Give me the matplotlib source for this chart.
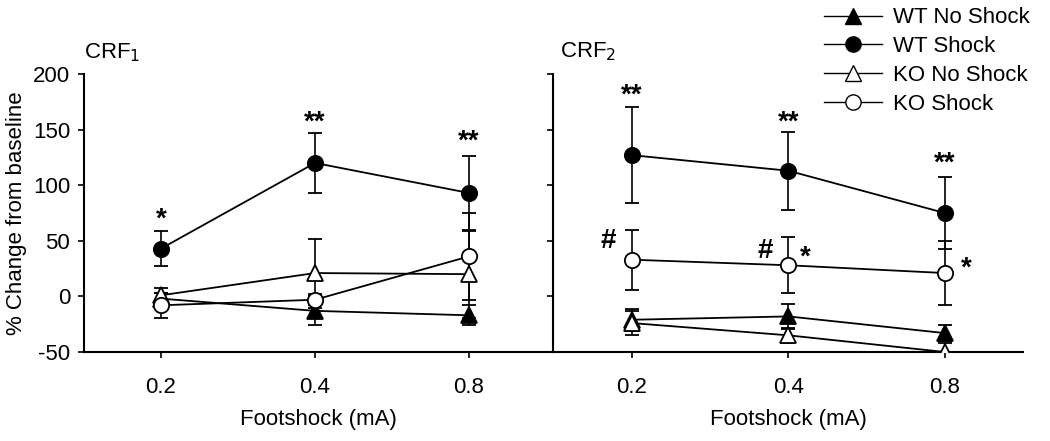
import matplotlib
matplotlib.use("Agg")
import matplotlib.pyplot as plt
from matplotlib.lines import Line2D

plt.rcParams['font.family'] = ['Liberation Sans', 'DejaVu Sans']
plt.rcParams['axes.unicode_minus'] = False

doses = ["0.2", "0.4", "0.8"]
series_names = ["WT No Shock", "WT Shock", "KO No Shock", "KO Shock"]

# CRF1 panel
crf1_wt_noshock = [-2, -13, -17]
crf1_wt_noshock_err = [5, 13, 9]
crf1_wt_shock = [43, 120, 93]
crf1_wt_shock_err = [15.5, 27, 33]
crf1_ko_noshock = [1, 21, 20]
crf1_ko_noshock_err = [7, 31, 39]
crf1_ko_shock = [-8, -3, 36]
crf1_ko_shock_err = [11, 5, 39]

# CRF2 panel
crf2_wt_noshock = [-21, -18, -33]
crf2_wt_noshock_err = [10, 11, 7]
crf2_wt_shock = [127, 113, 75]
crf2_wt_shock_err = [43, 35, 32]
crf2_ko_noshock = [-24, -35, -50]
crf2_ko_noshock_err = [11, 7, 8]
crf2_ko_shock = [33, 28, 21]
crf2_ko_shock_err = [27, 25, 29]

# significance annotations: (dose index, y value, label, x offset in index units)
crf1_marks = [(0, 69, "*", 0.0), (1, 156, "**", 0.0), (2, 139, "**", 0.0)]
crf2_marks = [(0, 181, "**", 0.0), (1, 156, "**", 0.0), (2, 119, "**", 0.0),
              (0, 50, "#", -0.15), (1, 41, "#", -0.15), (1, 35, "*", 0.11),
              (2, 25, "*", 0.14)]

styles = {
    "WT No Shock": dict(marker="^", mfc="black"),
    "WT Shock": dict(marker="o", mfc="black"),
    "KO No Shock": dict(marker="^", mfc="white"),
    "KO Shock": dict(marker="o", mfc="white"),
}

FS = 16

fig = plt.figure(figsize=(10.5, 4.41), dpi=100)
W, H = 1050, 441
ax1 = fig.add_axes([84 / W, 1 - 352 / H, (553 - 84) / W, (352 - 74) / H])
ax2 = fig.add_axes([553 / W, 1 - 352 / H, (1023 - 553) / W, (352 - 74) / H])

x = list(range(len(doses)))

def draw(ax, data, marks):
    for name, (vals, errs) in zip(series_names, data):
        st = styles[name]
        ax.errorbar(x, vals, yerr=errs, color="black", lw=1.3, elinewidth=1.2,
                    capsize=5, capthick=1.5, marker=st["marker"], mfc=st["mfc"],
                    mec="black", mew=1.3, ms=11, zorder=3)
    for i, yv, lab, dx in marks:
        ax.text(i + dx, yv, lab, ha="center", va="center", fontsize=20,
                fontweight="bold")
    ax.set_ylim(-50, 200)
    ax.set_yticks([-50, 0, 50, 100, 150, 200])
    ax.set_xticks(x)
    ax.set_xticklabels(doses)
    ax.spines["top"].set_visible(False)
    ax.spines["right"].set_visible(False)
    ax.spines["left"].set_linewidth(1.5)
    ax.spines["bottom"].set_linewidth(1.5)
    ax.tick_params(direction="out", length=4, width=1.2, labelsize=FS)
    ax.tick_params(axis="x", pad=14)
    ax.tick_params(axis="y", pad=6)
    ax.set_xlabel("Footshock (mA)", fontsize=FS, labelpad=8)

draw(ax1, [(crf1_wt_noshock, crf1_wt_noshock_err), (crf1_wt_shock, crf1_wt_shock_err),
           (crf1_ko_noshock, crf1_ko_noshock_err), (crf1_ko_shock, crf1_ko_shock_err)],
     crf1_marks)
draw(ax2, [(crf2_wt_noshock, crf2_wt_noshock_err), (crf2_wt_shock, crf2_wt_shock_err),
           (crf2_ko_noshock, crf2_ko_noshock_err), (crf2_ko_shock, crf2_ko_shock_err)],
     crf2_marks)

ax1.set_xlim(-0.5, 2.545)
ax2.set_xlim(-0.505, 2.5)
ax2.tick_params(axis="y", labelleft=False)
ax1.set_ylabel("% Change from baseline", fontsize=FS, labelpad=4)

fig.text(84 / W, 1 - 53 / H, r"CRF$_1$", fontsize=FS, ha="left", va="center")
fig.text(560 / W, 1 - 52 / H, r"CRF$_2$", fontsize=FS, ha="left", va="center")

handles = [Line2D([], [], color="black", lw=1, marker=styles[n]["marker"],
                  mfc=styles[n]["mfc"], mec="black", ms=11) for n in series_names]
fig.legend(handles, series_names, loc="upper left", bbox_to_anchor=(820 / W, 1 - 3 / H),
           frameon=False, fontsize=FS, handlelength=2.6, handletextpad=0.5,
           labelspacing=0.35, borderpad=0.2, borderaxespad=0)

fig.savefig("out.png", dpi=100)
